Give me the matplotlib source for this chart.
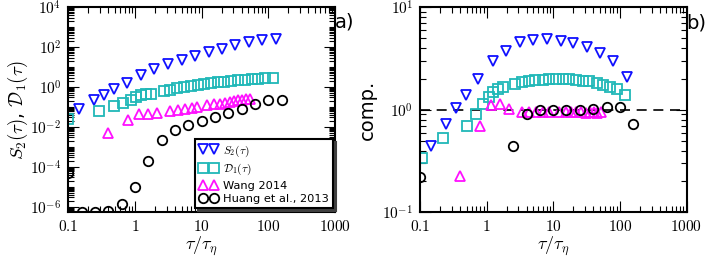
import numpy as np
import matplotlib
matplotlib.use("Agg")
import matplotlib.pyplot as plt
from matplotlib.ticker import FixedLocator, FixedFormatter, NullFormatter

plt.rcParams['mathtext.fontset'] = 'cm'
plt.rcParams['font.family'] = ['DejaVu Sans']

nan = np.nan

# ---------------- data ----------------
# S2(tau): blue down-triangles
s2_tau = [0.146, 0.245, 0.345, 0.49, 0.75, 1.24, 1.95, 3.18, 5.03, 7.98,
          12.97, 20.0, 31.8, 50.5, 79.8, 129.6]
s2_a = [0.083, 0.216, 0.385, 0.77, 1.58, 3.85, 7.7, 14.8, 23.4, 35.5,
        56.0, 83.0, 122.0, 178.0, 234.0, 263.0]
s2_b = [0.448, 0.725, 1.04, 1.40, 2.01, 2.96, 3.77, 4.54, 4.83, 4.90,
        4.65, 4.48, 4.06, 3.58, 2.96, 2.08]

# D1(tau): cyan squares
d1_tau_a = [0.1, 0.29, 0.48, 0.67, 0.86, 1.05, 1.25, 1.47, 1.72,
            2.7, 3.4, 4.3, 5.4, 6.9, 8.7, 11.0, 14.0, 17.5, 22.0, 28.0,
            35.0, 45.0, 56.0, 71.0, 90.0, 118.0]
d1_a = [0.026, 0.063, 0.112, 0.158, 0.216, 0.305, 0.385, 0.43, 0.47,
        0.66, 0.75, 0.88, 1.02, 1.15, 1.28, 1.42, 1.55, 1.70, 1.85, 2.0,
        2.15, 2.3, 2.45, 2.6, 2.78, 2.95]
d1_tau_b = [0.106, 0.22, 0.50, 0.69, 0.89, 1.07, 1.26, 1.5, 1.74,
            2.7, 3.4, 4.3, 5.4, 6.9, 8.7, 11.0, 14.0, 17.5, 22.0, 28.0,
            35.0, 45.0, 56.0, 71.0, 90.0, 120.0]
d1_b = [0.337, 0.536, 0.70, 0.91, 1.14, 1.34, 1.49, 1.59, 1.67,
        1.79, 1.86, 1.90, 1.94, 1.96, 1.98, 1.99, 1.99, 1.98, 1.96, 1.92,
        1.89, 1.82, 1.75, 1.67, 1.59, 1.40]

# Wang 2014: magenta up-triangles
wang_tau = [0.4, 0.79, 1.16, 1.58, 2.15, 3.34, 4.35, 5.6, 7.06, 8.57,
            12.2, 15.4, 18.7, 22.2, 26.4, 30.7, 35.2, 40.4, 45.9, 52.7]
wang_a = [0.0047, 0.023, 0.042, 0.047, 0.050, 0.061, 0.074, 0.083, 0.093, 0.10,
          0.122, 0.136, 0.148, 0.166, 0.178, 0.20, 0.216, 0.234, 0.243, 0.263]
wang_b = [0.227, 0.70, 1.12, 1.14, 1.02, 0.95, 0.96, 0.96, 0.95, 0.96,
          0.95, 0.95, 0.96, 0.95, 0.95, 0.94, 0.95, 0.95, 0.94, 0.95]

# Huang et al., 2013: black circles (nan = not visible in panel b)
huang_tau = [0.1, 0.158, 0.25, 0.4, 0.63, 1.0, 1.58, 2.5, 4.0, 6.3,
             10.0, 15.8, 25.0, 40.0, 63.0, 100.0, 158.0]
huang_a = [5.0e-5, 5.5e-7, 5.5e-7, 6.0e-7, 1.3e-6, 1.0e-5, 1.9e-4, 2.3e-3, 7.4e-3, 0.013,
           0.020, 0.032, 0.050, 0.083, 0.136, 0.216, 0.234]
huang_b = [0.223, nan, nan, nan, nan, nan, nan, 0.44, 0.91, 1.0,
           0.99, 0.99, 1.0, 1.01, 1.06, 1.06, 0.73]

x_ticks = [0.1, 1, 10, 100, 1000]
x_ticklabels = ['$0.1$', '$1$', '$10$', '$100$', '$1000$']
ya_ticks = [1e-6, 1e-4, 1e-2, 1e0, 1e2, 1e4]
ya_ticklabels = ['$10^{-6}$', '$10^{-4}$', '$10^{-2}$', '$10^{0}$', '$10^{2}$', '$10^{4}$']
yb_ticks = [0.1, 1, 10]
yb_ticklabels = ['$10^{-1}$', '$10^{0}$', '$10^{1}$']

# ---------------- figure ----------------
W, H = 706, 261
fig = plt.figure(figsize=(W / 100, H / 100), dpi=100)

def px_axes(l, r, t, b):
    return fig.add_axes([l / W, 1 - b / H, (r - l) / W, (b - t) / H])

axa = px_axes(68.3, 335.0, 7.3, 212.3)
axb = px_axes(420.0, 686.5, 7.3, 212.3)

blue = '#1010ff'
cyan = '#20b8b8'
mag = '#ff10ff'
ms = 6.8
mew = 1.3
style = dict(ls='none', mfc='none', mew=mew, ms=ms)

def decorate(ax, ylim, yticks, yticklabels, minor_y):
    ax.set_xscale('log')
    ax.set_yscale('log')
    ax.set_xlim(0.1, 1000)
    ax.set_ylim(*ylim)
    ax.xaxis.set_major_locator(FixedLocator(x_ticks))
    ax.xaxis.set_major_formatter(FixedFormatter(x_ticklabels))
    minor_x = [m * 10.0 ** k for k in range(-1, 3) for m in range(2, 10)]
    ax.xaxis.set_minor_locator(FixedLocator(minor_x))
    ax.xaxis.set_minor_formatter(NullFormatter())
    ax.yaxis.set_major_locator(FixedLocator(yticks))
    ax.yaxis.set_major_formatter(FixedFormatter(yticklabels))
    ax.yaxis.set_minor_locator(FixedLocator(minor_y))
    ax.yaxis.set_minor_formatter(NullFormatter())
    ax.tick_params(which='both', direction='in', top=True, right=True,
                   labelsize=11, width=0.8)
    ax.tick_params(which='major', length=8, pad=5)
    ax.tick_params(which='minor', length=4.5)
    for s in ax.spines.values():
        s.set_linewidth(1.5)
    ax.set_xlabel(r'$\tau/\tau_\eta$', fontsize=13, labelpad=0)

# panel a
axa.plot(s2_tau, s2_a, marker='v', color=blue, label=r'$S_2(\tau)$', **style)
axa.plot(d1_tau_a, d1_a, marker='s', color=cyan, label=r'$\mathcal{D}_1(\tau)$', **style)
axa.plot(wang_tau, wang_a, marker='^', color=mag, label='Wang 2014', **style)
axa.plot(huang_tau, huang_a, marker='o', color='k', label='Huang et al., 2013', **style)
minor_ya = [m * 10.0 ** k for k in range(-7, 4) for m in range(1, 10) if not (m == 1 and k % 2 == 0)]
decorate(axa, (5.2e-7, 1e4), ya_ticks, ya_ticklabels, minor_ya)
axa.set_ylabel(r'$S_2(\tau)$, $\mathcal{D}_1(\tau)$', fontsize=13.5, labelpad=0)
leg = axa.legend(loc='lower right', bbox_to_anchor=(0.992, 0.02), borderaxespad=0,
                 numpoints=2, fontsize=8.2, handlelength=1.6, handletextpad=0.5,
                 labelspacing=0.3, borderpad=0.35, fancybox=False,
                 shadow={'color': '0.25', 'alpha': 1.0}, framealpha=1)
leg.get_frame().set_edgecolor('k')
leg.get_frame().set_linewidth(1.5)

# panel b
axb.plot(s2_tau, s2_b, marker='v', color=blue, **style)
axb.plot(d1_tau_b, d1_b, marker='s', color=cyan, **style)
axb.plot(wang_tau, wang_b, marker='^', color=mag, **style)
axb.plot(huang_tau, huang_b, marker='o', color='k', **style)
axb.axhline(1.0, color='k', ls=(0, (6, 4)), lw=1.2, zorder=1)
minor_yb = [m * 10.0 ** k for k in range(-1, 1) for m in range(2, 10)]
decorate(axb, (0.1, 10), yb_ticks, yb_ticklabels, minor_yb)
axb.set_ylabel('comp.', fontsize=14, labelpad=4)

fig.text(345 / W, 1 - 22 / H, 'a)', fontsize=14, ha='center', va='center')
fig.text(696 / W, 1 - 23 / H, 'b)', fontsize=14, ha='center', va='center')

fig.savefig('out.png', dpi=100)
